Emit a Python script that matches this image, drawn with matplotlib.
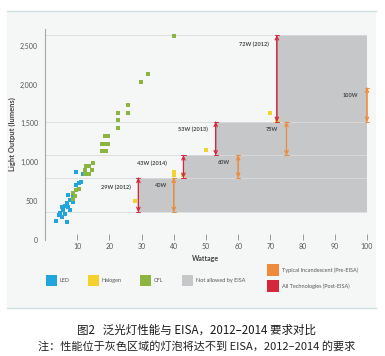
import matplotlib
matplotlib.use("Agg")
import matplotlib.pyplot as plt
from matplotlib.patches import Rectangle

# data
led_w = [3.3, 6.9, 5.2, 6.2, 4.7, 5.7, 7.8, 5.2, 7.2, 6.2, 6.7, 8.8, 7.8, 8.6, 7.2, 4.3, 9.6, 10.7, 11.2, 9.6, 11.9]
led_l = [247, 235, 299, 333, 350, 385, 385, 419, 419, 436, 470, 491, 513, 547, 577, 320, 714, 735, 740, 870, 846]

cfl_w = [40.0, 31.9, 29.8, 25.9, 22.8, 25.9, 22.8, 22.8,
         18.6, 19.7, 17.6, 18.6, 19.7, 17.6, 19.0,
         14.8, 13.7, 12.6, 12.4, 14.7, 13.7, 12.4,
         8.8, 9.6, 10.7, 9.2, 8.6]
cfl_l = [2630, 2130, 2035, 1740, 1637, 1637, 1542, 1445,
         1337, 1337, 1240, 1240, 1240, 1141, 1141,
         991, 957, 949, 897, 897, 855, 846,
         606, 641, 652, 565, 530]

hal_w = [28.0, 40.0, 40.0, 43.0, 50.0, 69.9, 72.0]
hal_l = [500, 870, 830, 830, 1155, 1637, 1525]

# EISA steps (gray region)
step_w = [29, 43, 53, 72, 100]
step_top = [800, 1090, 1520, 2635, 2635]
step_bottom = 360

# post-EISA limits (red) and typical incandescent (orange)
red_w = [29, 43, 53, 72]
red_lo = [360, 800, 1090, 1520]
red_hi = [800, 1090, 1520, 2635]
red_txt = ["29W (2012)", "43W (2014)", "53W (2013)", "72W (2012)"]
red_txt_pos = [(26.7, 680), (37.8, 985), (50.6, 1425), (69.4, 2520)]

org_w = [40, 60, 75, 100]
org_lo = [360, 800, 1090, 1520]
org_hi = [800, 1090, 1520, 1960]
org_txt = ["40W", "60W", "75W", "100W"]
org_txt_pos = [(37.8, 700), (57.5, 1000), (72.4, 1420), (97.2, 1860)]

xticks = [10, 20, 30, 40, 50, 60, 70, 80, 90, 100]
yticks = [0, 500, 1000, 1500, 2000, 2500]
ylabels = ["0", "500", "1,000", "1,500", "2,000", "2,500"]

BLUE = "#22a5db"
YEL = "#f3d22c"
GREEN = "#8bb540"
GRAY = "#c6c7c9"
RED = "#d6283c"
ORANGE = "#ef8a3a"
TXT = "#444444"

plt.rcParams['font.family'] = ['Lato', 'DejaVu Sans']

W, H = 385, 356
fig = plt.figure(figsize=(W / 100, H / 100), dpi=100)

def fx(px):
    return px / W

def fy(py):
    return 1 - py / H

# light panel behind the chart
fig.patches.append(Rectangle((fx(7), fy(308)), fx(376) - fx(7), fy(11) - fy(308),
                             transform=fig.transFigure, facecolor="#f5f6f6",
                             edgecolor="none", zorder=-5))
for py in (11, 308):
    fig.add_artist(plt.Line2D([fx(7), fx(376)], [fy(py), fy(py)],
                              transform=fig.transFigure, color="#cfe1e1", lw=1.0, zorder=-4))

ax = fig.add_axes([fx(45), fy(240), fx(367) - fx(45), fy(29) - fy(240)])
ax.set_zorder(2)
ax.set_facecolor("none")
ax.set_xlim(0, 100)
ax.set_ylim(0, 2715)

ax.fill_between(step_w, step_bottom, step_top, step="post", color=GRAY, lw=0, zorder=1)
for lev in [step_bottom] + step_top[:4]:
    ax.axhline(lev, xmin=0, xmax=1, color="#dadbdc", lw=0.6, zorder=1.5)

def arrow(x, lo, hi, c):
    ax.annotate("", xy=(x, hi), xytext=(x, lo),
                arrowprops=dict(arrowstyle="<->", color=c, lw=0.9,
                                shrinkA=0, shrinkB=0, mutation_scale=6), zorder=3)
    ax.annotate("", xy=(x, hi), xytext=(x, lo),
                arrowprops=dict(arrowstyle="|-|, widthA=0.3, widthB=0.3", color=c, lw=0.7,
                                shrinkA=0, shrinkB=0, mutation_scale=5), zorder=3)

for x, lo, hi in zip(red_w, red_lo, red_hi):
    arrow(x, lo, hi, RED)
for x, lo, hi in zip(org_w, org_lo, org_hi):
    arrow(x, lo, hi, ORANGE)
for t, (x, y) in zip(red_txt + org_txt, red_txt_pos + org_txt_pos):
    ax.text(x, y, t, ha="right", va="center", fontsize=4, fontweight="bold", color=TXT, zorder=4)

ax.scatter(led_w, led_l, marker="s", s=11, color=BLUE, lw=0, zorder=2)
ax.scatter(cfl_w, cfl_l, marker="s", s=11, color=GREEN, lw=0, zorder=2)
ax.scatter(hal_w, hal_l, marker="s", s=11, color=YEL, lw=0, zorder=2.5)

for s in ("top", "right", "bottom"):
    ax.spines[s].set_visible(False)
ax.spines["left"].set_color("#a8a8a8")
ax.spines["left"].set_linewidth(0.8)

ax.set_xticks(xticks)
ax.set_yticks(yticks)
ax.set_yticklabels(ylabels)
ax.tick_params(axis="x", direction="in", length=4, width=0.7, color="#999999",
               labelsize=5, labelcolor="#555555", pad=2)
ax.tick_params(axis="y", length=0, labelsize=5, labelcolor="#555555", pad=5)
ax.set_xlabel("Wattage", fontsize=5, fontweight="bold", color=TXT, labelpad=4)
ax.set_ylabel("Light Output (lumens)", fontsize=5.5, fontweight="bold", color=TXT, labelpad=3)

# legend
legend_row = [("LED", BLUE, 46), ("Halogen", YEL, 88), ("CFL", GREEN, 140),
              ("Not allowed by EISA", GRAY, 182)]
for name, c, px in legend_row:
    fig.patches.append(Rectangle((fx(px), fy(286)), 11 / W, 11 / H, transform=fig.transFigure,
                                 facecolor=c, edgecolor="none"))
    fig.text(fx(px + 14), fy(280.5), name, fontsize=4, color="#555555", va="center")
for name, c, py in [("Typical Incandescent (Pre-EISA)", ORANGE, 276),
                    ("All Technologies (Post-EISA)", RED, 292)]:
    fig.patches.append(Rectangle((fx(267), fy(py)), 12 / W, 12 / H, transform=fig.transFigure,
                                 facecolor=c, edgecolor="none"))
    fig.text(fx(282), fy(py - 6), name, fontsize=4, color="#555555", va="center")

cjk = ['Noto Sans CJK SC', 'DejaVu Sans']
fig.text(0.51, fy(330), "图2   泛光灯性能与 EISA，2012–2014 要求对比", family=cjk,
         fontsize=8.3, fontweight="medium", ha="center", va="center", color="#1a1a1a")
fig.text(0.51, fy(346), "注：性能位于灰色区域的灯泡将达不到 EISA，2012–2014 的要求", family=cjk,
         fontsize=8, ha="center", va="center", color="#222222")

fig.savefig("out.png", dpi=100)
